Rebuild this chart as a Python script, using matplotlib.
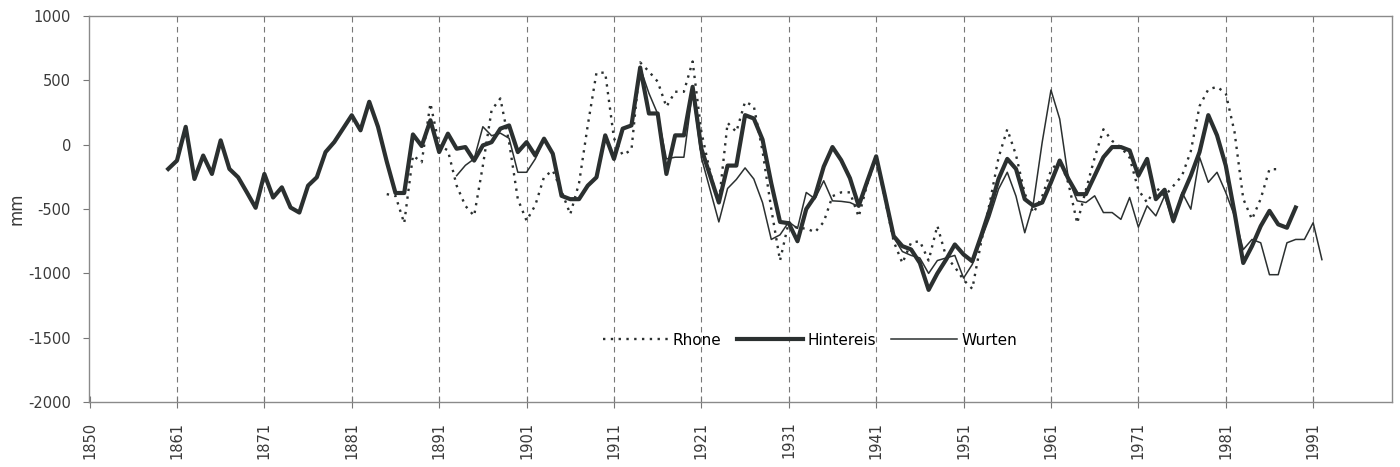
import numpy as np
import matplotlib
matplotlib.use("Agg")
import matplotlib.pyplot as plt

# mass balance series (mm)
hintereis_years = np.arange(1860, 1990)
hintereis = [-188, -123, 139, -266, -84, -227, 34, -188, -253, -370,
             -490, -227, -410, -331, -488, -527, -318, -253, -57, 21,
             125, 229, 112, 334, 140, -130, -375, -375, 80, -10,
             190, -57, 86, -31, -18, -123, -5, 20, 125, 150,
             -57, 20, -84, 47, -70, -397, -423, -423, -318, -253,
             73, -110, 125, 150, 600, 243, 243, -227, 73, 73,
             450, -31, -240, -449, -162, -162, 230, 204, 40, -300,
             -600, -610, -750, -500, -400, -170, -18, -120, -260, -475,
             -280, -90, -397, -710, -788, -814, -919, -1128, -1000, -893,
             -775, -853, -906, -710, -501, -266, -110, -188, -423, -475,
             -449, -292, -123, -266, -384, -384, -240, -97, -18, -18,
             -44, -240, -110, -423, -350, -592, -397, -240, -57, 230,
             73, -162, -527, -919, -788, -632, -514, -619, -645, -488]

rhone_years = np.arange(1885, 1988)
rhone = [-384, -397, -610, -84, -136,
         321, -5, -44, -318, -475, -553, -162, 269, 360, 21,
         -423, -590, -470, -250, -200, -360, -540, -300, 150, 560,
         560, 50, -80, -40, 640, 569, 491, 295, 412, 412,
         647, 100, -214, -450, 170, 100, 334, 300, -50, -500,
         -900, -600, -650, -650, -680, -600, -400, -370, -370, -560,
         -300, -100, -420, -750, -920, -760, -750, -900, -630, -870,
         -950, -1050, -1120, -760, -450, -100, 120, -80, -380, -530,
         -400, -200, -120, -300, -610, -350, -100, 120, 30, -20,
         -100, -350, -450, -330, -400, -320, -240, -50, 300, 430,
         450, 400, 100, -420, -580, -420, -190, -190]

wurten_years = np.arange(1893, 1993)
wurten = [-240, -160, -110, 140, 70, 90, 50,
          -214, -214, -110, 47, -70, -397, -423, -423, -318, -253,
          73, -110, 125, 150, 600, 400, 240, -110, -97, -97,
          420, -100, -350, -600, -340, -270, -180, -266, -450, -736,
          -700, -600, -650, -371, -420, -280, -436, -440, -449, -480,
          -300, -100, -380, -720, -830, -860, -880, -1000, -900, -880,
          -860, -1036, -930, -740, -560, -345, -214, -400, -684, -449,
          21, 425, 200, -266, -436, -449, -397, -527, -527, -580,
          -410, -640, -475, -553, -397, -606, -371, -501, -97, -292,
          -214, -371, -553, -815, -736, -762, -1010, -1010, -762, -736,
          -736, -606, -893]

tick_pos = [1851, 1861, 1871, 1881, 1891, 1901, 1911, 1921, 1931, 1941,
            1951, 1961, 1971, 1981, 1991]
tick_labels = ['1850', '1861', '1871', '1881', '1891', '1901', '1911', '1921',
               '1931', '1941', '1951', '1961', '1971', '1981', '1991']
y_ticks = [1000, 500, 0, -500, -1000, -1500, -2000]

plt.rcParams['font.family'] = ['DejaVu Sans']
plt.rcParams['axes.unicode_minus'] = False

fig = plt.figure(figsize=(14, 4.67), dpi=100)
fig.patch.set_facecolor('white')
ax = fig.add_axes([0.0636, 0.139, 0.931, 0.8266])

line_col = '#2b3030'
ax.plot(rhone_years, rhone, color=line_col, lw=1.7, ls=(0, (1.0, 2.3)), label='Rhone')
ax.plot(hintereis_years, hintereis, color=line_col, lw=3.0, label='Hintereis')
ax.plot(wurten_years, wurten, color=line_col, lw=1.1, label='Wurten')

ax.set_xlim(1850.94, 2000.07)
ax.set_ylim(-2000, 1000)
ax.set_xticks(tick_pos)
ax.set_xticklabels(tick_labels, rotation=90, fontsize=10.5, color='#3a3a3a')
ax.set_yticks(y_ticks)
ax.set_yticklabels([str(v) for v in y_ticks], fontsize=10.5, color='#3a3a3a')
ax.set_ylabel('mm', fontsize=12, color='#3a3a3a')
ax.yaxis.set_label_coords(-0.049, 0.5)

for x in tick_pos[1:]:
    ax.axvline(x, color='#777777', lw=0.8, ls=(0, (5, 4)), zorder=0)

for s in ax.spines.values():
    s.set_color('#8a8a8a')
    s.set_linewidth(1.0)

ax.tick_params(axis='x', direction='inout', length=8, color='#777777', pad=10)
ax.tick_params(axis='y', direction='out', length=4, color='#777777', pad=9)

ax.legend(loc='center', bbox_to_anchor=(0.553, 0.16), ncol=3, frameon=False,
          fontsize=11, handlelength=4.3, handletextpad=0.3, columnspacing=1.0)

fig.savefig('out.png', dpi=100)
